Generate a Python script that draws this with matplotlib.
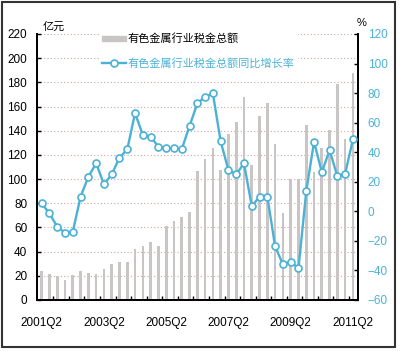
import numpy as np
import matplotlib.pyplot as plt
from matplotlib.lines import Line2D
from matplotlib.patches import Patch, Rectangle

plt.rcParams['font.family'] = ['Liberation Sans', 'Noto Sans CJK SC']

# quarterly data, 2001Q2 .. 2011Q2
tax_total = [24, 21.4, 20, 16.4, 21, 24, 22.7, 21.6, 25.5, 30,
             31.5, 31.5, 42.5, 45, 47.7, 45, 61, 65, 69, 73,
             107, 117, 126, 107.5, 137, 147.5, 167.6, 112, 152.5, 162.7,
             128.8, 72, 100, 100, 144.7, 106, 126, 141, 178.7, 133, 187.5]
growth = [5.4, -1.4, -10.4, -14.5, -13.8, 9.9, 23.4, 32.5, 18.3, 25,
          36.3, 41.9, 66.5, 51.6, 50.5, 43.7, 42.6, 42.6, 42, 57.7,
          73, 77.5, 79.8, 47.4, 27.9, 25, 32.5, 3.4, 10, 10,
          -23.7, -35.9, -34, -38.6, 13.5, 47.1, 26.4, 41.5, 23.6, 25.5, 48.7]
tick_labels = ['2001Q2', '2003Q2', '2005Q2', '2007Q2', '2009Q2', '2011Q2']

bar_label = '有色金属行业税金总额'
line_label = '有色金属行业税金总额同比增长率'

bar_color = '#c9c5c5'
line_color = '#4bb2d6'

x = np.arange(len(tax_total))

fig = plt.figure(figsize=(4.0, 3.51), dpi=100)
ax = fig.add_axes([37 / 400, 1 - 300 / 351, 321 / 400, 266 / 351])
ax2 = ax.twinx()

ax.bar(x, tax_total, width=0.34, color=bar_color, zorder=2)
ax.set_ylim(0, 220)
ax.set_yticks(range(0, 221, 20))
ax.set_xlim(-0.6, 40.65)
ax.set_xticks(x[::8])
ax.set_xticklabels(tick_labels, fontsize=8.5)
ax.set_xticks(np.arange(1.5, 40, 2), minor=True)
ax.tick_params(axis='x', which='major', length=0, pad=12)
ax.tick_params(axis='x', which='minor', direction='in', length=3, width=1)
ax.tick_params(axis='y', direction='in', length=3, width=1, labelsize=8.5, pad=7)
for yv in range(20, 221, 20):
    ax.axhline(yv, color='#d4a3a3', lw=0.8, ls=(0, (1, 2)), zorder=1)

ax2.plot(x, growth, color=line_color, lw=1.7, marker='o', ms=5,
         mfc='white', mec=line_color, mew=1.2, zorder=3)
ax2.set_ylim(-60, 120)
ax2.set_yticks(range(-60, 121, 20))
ax2.tick_params(axis='y', direction='in', length=3, width=1, labelsize=8.5,
                pad=7, labelcolor=line_color)

for a in (ax, ax2):
    a.spines['top'].set_visible(False)
    for s in ('left', 'right', 'bottom'):
        a.spines[s].set_linewidth(1.3)

fig.text(43 / 400, 1 - 27 / 351, '亿元', fontsize=8, va='center', ha='left')
fig.text(362 / 400, 1 - 23 / 351, '%', fontsize=8, va='center', ha='center')

handles = [Patch(color=bar_color),
           Line2D([], [], color=line_color, lw=1.7, marker='o', ms=5,
                  mfc='white', mec=line_color, mew=1.2)]
leg = ax2.legend(handles, [bar_label, line_label], loc='upper left',
                 bbox_to_anchor=(99 / 400, 1 - 30 / 351),
                 bbox_transform=fig.transFigure, frameon=True, fancybox=False,
                 edgecolor='none', facecolor='white', framealpha=1,
                 fontsize=8, handlelength=2.1, handleheight=0.3,
                 handletextpad=0.15, labelspacing=1.2, borderpad=0.3,
                 borderaxespad=0)
leg.get_texts()[1].set_color(line_color)
for t in leg.get_texts():
    t.set_fontfamily(['Noto Sans CJK SC'])

fig.patches.append(Rectangle((1.5 / 400, 4 / 351), 393.5 / 400, 345 / 351,
                             transform=fig.transFigure, fill=False,
                             edgecolor='#333333', lw=1.5))

fig.savefig('out.png', dpi=100)
